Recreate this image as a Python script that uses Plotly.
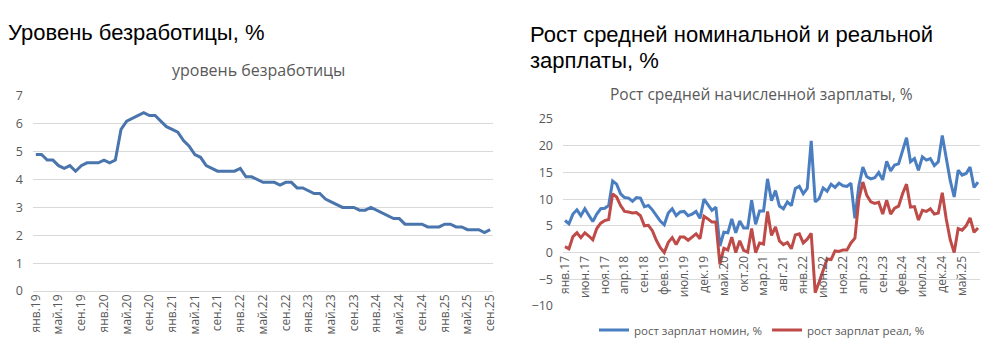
import plotly.graph_objects as go

# ---------- data ----------
unemp_labels = ["янв.19", "май.19", "сен.19", "янв.20", "май.20", "сен.20", "янв.21", "май.21",
                "сен.21", "янв.22", "май.22", "сен.22", "янв.23", "май.23", "сен.23", "янв.24",
                "май.24", "сен.24", "янв.25", "май.25", "сен.25"]
unemp = [4.9, 4.9, 4.7, 4.7, 4.5, 4.4, 4.5, 4.3, 4.5, 4.6, 4.6, 4.6,
         4.7, 4.6, 4.7, 5.8, 6.1, 6.2, 6.3, 6.4, 6.3, 6.3, 6.1, 5.9,
         5.8, 5.7, 5.4, 5.2, 4.9, 4.8, 4.5, 4.4, 4.3, 4.3, 4.3, 4.3,
         4.4, 4.1, 4.1, 4.0, 3.9, 3.9, 3.9, 3.8, 3.9, 3.9, 3.7, 3.7,
         3.6, 3.5, 3.5, 3.3, 3.2, 3.1, 3.0, 3.0, 3.0, 2.9, 2.9, 3.0,
         2.9, 2.8, 2.7, 2.6, 2.6, 2.4, 2.4, 2.4, 2.4, 2.3, 2.3, 2.3,
         2.4, 2.4, 2.3, 2.3, 2.2, 2.2, 2.2, 2.1, 2.2]

wage_labels = ["янв.17", "июн.17", "ноя.17", "апр.18", "сен.18", "фев.19", "июл.19", "дек.19",
               "май.20", "окт.20", "мар.21", "авг.21", "янв.22", "июн.22", "ноя.22", "апр.23",
               "сен.23", "фев.24", "июл.24", "дек.24", "май.25"]
wage_nominal = [6.0, 5.4, 7.2, 8.0, 6.9, 8.2, 7.0, 5.8, 7.2, 8.2, 8.3, 8.8,
                13.4, 12.8, 11.0, 10.3, 10.2, 9.6, 10.3, 10.2, 8.6, 8.8, 8.0, 7.0,
                5.9, 5.2, 7.4, 8.2, 6.9, 7.6, 7.7, 6.9, 7.2, 7.7, 6.4, 10.0,
                9.0, 7.9, 8.5, 1.2, 3.8, 3.7, 6.3, 3.7, 5.9, 4.6, 4.6, 9.8,
                5.3, 7.8, 7.8, 13.8, 9.7, 11.6, 8.7, 8.2, 9.5, 8.8, 12.0, 12.4,
                11.0, 12.0, 20.9, 9.5, 10.1, 12.1, 11.5, 12.8, 12.2, 13.0, 12.5, 12.4,
                13.0, 6.4, 12.5, 16.0, 14.2, 13.8, 14.0, 15.0, 13.6, 17.1, 15.3, 16.4,
                16.6, 19.3, 21.5, 17.0, 17.6, 15.4, 17.9, 17.3, 17.6, 16.3, 17.0, 21.9,
                17.5, 13.5, 10.4, 15.4, 14.5, 14.8, 16.0, 12.2, 13.2]
wage_real = [1.1, 0.7, 3.0, 3.7, 2.8, 3.7, 3.1, 2.4, 4.5, 5.5, 6.0, 6.2,
             11.0, 10.4, 8.8, 7.7, 7.6, 7.4, 7.5, 6.9, 5.0, 5.1, 4.1, 2.3,
             0.9, 0.0, 1.9, 2.8, 1.5, 2.9, 2.9, 2.3, 2.9, 3.5, 2.6, 6.8,
             6.3, 5.7, 5.7, -2.2, 0.8, 0.5, 2.9, 0.0, 2.2, 0.4, 0.1, 4.5,
             0.0, 1.8, 1.6, 7.7, 3.2, 4.8, 2.2, 1.5, 1.9, 0.7, 3.3, 3.5,
             1.8, 2.5, 3.6, -7.5, -5.5, -3.2, -1.2, -1.3, 0.3, 0.2, 0.5, 0.5,
             1.8, 2.7, 10.0, 13.2, 10.7, 9.5, 9.2, 9.4, 7.2, 9.8, 7.2, 8.3,
             8.7, 11.0, 12.8, 8.5, 8.6, 6.1, 7.9, 7.7, 8.2, 7.2, 7.4, 11.2,
             6.3, 2.4, 0.0, 4.5, 4.2, 5.0, 6.5, 3.8, 4.6]

# page has an 8px body margin; size the figure to fit inside the window
OFF = 8
W, H = 998 - 2 * OFF, 362 - 2 * OFF
def px(x):
    return (x - OFF) / W
def py(y):
    return 1 - (y - OFF) / H

GRAY = "#595959"
GRID = "#d9d9d9"
AX_FONT = dict(family="Open Sans, Noto Sans, sans-serif", size=12, color=GRAY)

fig = go.Figure()

fig.add_trace(go.Scatter(x=list(range(len(unemp))), y=unemp, mode="lines",
                         line=dict(color="#4A75AC", width=3),
                         showlegend=False, xaxis="x", yaxis="y"))
fig.add_trace(go.Scatter(x=list(range(len(wage_nominal))), y=wage_nominal, mode="lines",
                         name="рост зарплат номин, %",
                         line=dict(color="#4A7EC1", width=3),
                         xaxis="x2", yaxis="y2"))
fig.add_trace(go.Scatter(x=list(range(len(wage_real))), y=wage_real, mode="lines",
                         name="рост зарплат реал, %",
                         line=dict(color="#BE4B48", width=3),
                         xaxis="x2", yaxis="y2"))

y1_dom = [py(291), py(96)]
y2_dom = [py(306), py(119)]
y2_range = [-10, 25]
zero_pos = y2_dom[0] + (0 - y2_range[0]) / (y2_range[1] - y2_range[0]) * (y2_dom[1] - y2_dom[0])

fig.update_layout(
    width=W, height=H,
    margin=dict(l=0, r=0, t=0, b=0),
    paper_bgcolor="white", plot_bgcolor="white",
    xaxis=dict(domain=[px(33), px(493)], range=[-0.5, len(unemp) - 0.5],
               tickmode="array", tickvals=list(range(0, len(unemp), 4)), ticktext=unemp_labels,
               tickangle=-90, tickfont=AX_FONT, showgrid=False, zeroline=False,
               showline=False, ticks="", anchor="y", automargin=False),
    yaxis=dict(domain=y1_dom, range=[0, 7], dtick=1, tickfont=dict(AX_FONT, size=12.5),
               gridcolor=GRID, gridwidth=1, zeroline=True, zerolinecolor=GRID,
               zerolinewidth=1, showline=False, ticks="", anchor="x",
               ticklabelstandoff=9, automargin=False),
    xaxis2=dict(domain=[px(563), px(980)], range=[-0.5, len(wage_nominal) - 0.5],
                tickmode="array", tickvals=list(range(0, len(wage_nominal), 5)), ticktext=wage_labels,
                tickangle=-90, tickfont=AX_FONT, showgrid=False, zeroline=False,
                showline=False, ticks="", anchor="free", position=zero_pos, automargin=False),
    yaxis2=dict(domain=y2_dom, range=y2_range, dtick=5, tickfont=dict(AX_FONT, size=12.5),
                gridcolor=GRID, gridwidth=1, zeroline=True, zerolinecolor=GRID,
                zerolinewidth=1, showline=False, ticks="", anchor="x2",
                ticklabelstandoff=9, automargin=False),
    legend=dict(orientation="h", x=px(762), xanchor="center", y=py(330), yanchor="middle",
                font=dict(family="Open Sans, Noto Sans, sans-serif", size=11.5, color=GRAY),
                itemwidth=30, bgcolor="rgba(0,0,0,0)"),
)

TITLE_FONT = dict(family="Liberation Sans, Arial, sans-serif", size=22, color="black")
SUB_FONT = dict(family="Open Sans, Noto Sans, sans-serif", size=16, color=GRAY)
SUB_FONT2 = dict(SUB_FONT, size=15.5)

fig.add_annotation(text="Уровень безработицы, %", x=px(6), y=py(33), xref="paper", yref="paper",
                   xanchor="left", yanchor="middle", showarrow=False, font=TITLE_FONT)
fig.add_annotation(text="Рост средней номинальной и реальной", x=px(528), y=py(34), xref="paper",
                   yref="paper", xanchor="left", yanchor="middle", showarrow=False, font=TITLE_FONT)
fig.add_annotation(text="зарплаты, %", x=px(528), y=py(60), xref="paper",
                   yref="paper", xanchor="left", yanchor="middle", showarrow=False, font=TITLE_FONT)
fig.add_annotation(text="уровень безработицы", x=px(258), y=py(70), xref="paper", yref="paper",
                   xanchor="center", yanchor="middle", showarrow=False, font=SUB_FONT)
fig.add_annotation(text="Рост средней начисленной зарплаты, %", x=px(761), y=py(94), xref="paper",
                   yref="paper", xanchor="center", yanchor="middle", showarrow=False, font=SUB_FONT2)

fig.write_html("out.html")
